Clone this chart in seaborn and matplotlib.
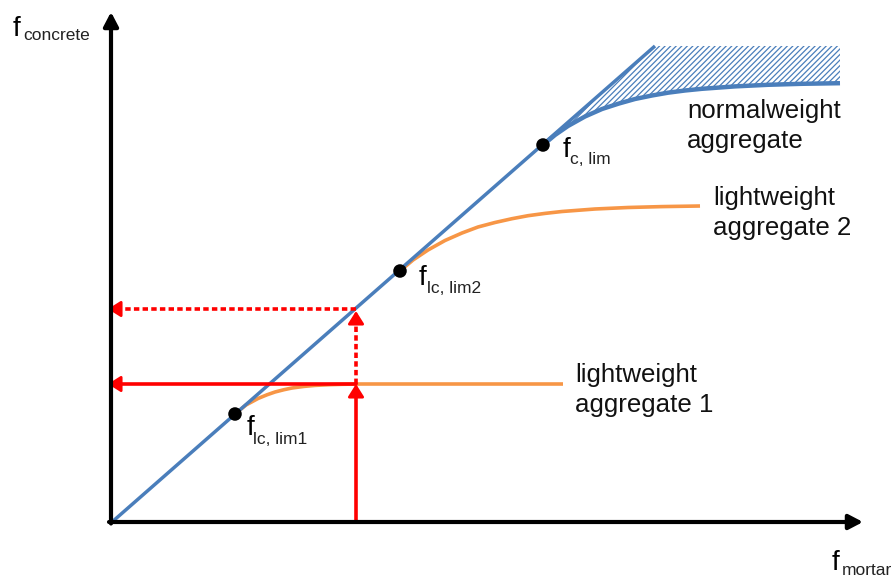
import matplotlib
matplotlib.use("Agg")
import matplotlib.pyplot as plt
import seaborn as sns

# ---------------- data (f_mortar -> f_concrete, schematic units) ----------------
diag_x = [0, 543]
diag_y = [0, 476]

lw1_x = [123, 134, 146, 155, 163, 172, 180, 192, 203, 217, 230, 246, 300, 451]
lw1_y = [108, 117, 123.5, 127.2, 130, 132.3, 134, 135.6, 136.6, 137.3, 137.7, 138, 138, 138]

lw2_x = [288, 301, 316, 333, 350, 366, 383, 400, 416, 433, 450, 483, 516, 550, 588]
lw2_y = [251, 262, 272, 281.5, 289, 295, 299.5, 303.3, 306.3, 308.6, 310.5, 313, 314.5, 315.4, 316]

nw_x = [431, 443, 456, 473, 490, 507, 523, 540, 556, 573, 590, 623, 656, 690, 728]
nw_y = [377, 387, 396, 405.5, 413, 418.5, 423, 426.5, 429.3, 431.5, 433.2, 435.6, 437.2, 438.2, 438.8]

hatch_top = 476

dot_x = [123, 288, 431]
dot_y = [108, 251, 377]

read_x = 244          # mortar strength used for reading
read_y1 = 138         # concrete strength, lightweight aggregate 1
read_y2 = 213         # concrete strength on the diagonal

sym_main = ["f", "f", "f", "f", "f"]
sym_sub = ["concrete", "mortar", "lc, lim1", "lc, lim2", "c, lim"]
sym_pos = [(-99, 486), (720, -48), (135, 87), (307, 237), (451, 365)]
sub_pos = [(-89, 482), (730, -53), (141, 78), (315, 229), (458, 358)]

curve_labels = [["normalweight", "aggregate"],
                ["lightweight", "aggregate 2"],
                ["lightweight", "aggregate 1"]]
label_pos = [(575, 404), (601, 317), (463, 140)]

# ---------------- style ----------------
sns.set_style("white")
plt.rcParams["font.family"] = ["Liberation Sans", "DejaVu Sans"]
plt.rcParams["hatch.linewidth"] = 0.9

BLUE = "#4A7EBB"
ORANGE = "#F79646"
RED = "#FF0000"

fig = plt.figure(figsize=(8.92, 5.78), dpi=100)
ax = fig.add_axes([0, 0, 1, 1])
ax.set_xlim(-112, 780)
ax.set_ylim(-56, 522)
ax.axis("off")

# hatched region between the diagonal/top bound and normalweight curve
poly_x = [nw_x[0], diag_x[1], nw_x[-1]] + nw_x[::-1]
poly_y = [nw_y[0], hatch_top, hatch_top] + nw_y[::-1]
ax.fill(poly_x, poly_y, facecolor="none", edgecolor=BLUE, hatch="//////",
        linewidth=0, zorder=1)

# curves
sns.lineplot(x=lw1_x, y=lw1_y, sort=False, estimator=None, color=ORANGE,
             lw=2.6, ax=ax, zorder=2)
sns.lineplot(x=lw2_x, y=lw2_y, sort=False, estimator=None, color=ORANGE,
             lw=2.6, ax=ax, zorder=2)
sns.lineplot(x=diag_x, y=diag_y, sort=False, estimator=None, color=BLUE,
             lw=2.5, ax=ax, zorder=3)
sns.lineplot(x=nw_x, y=nw_y, sort=False, estimator=None, color=BLUE,
             lw=3.2, ax=ax, zorder=3)
for l in ax.lines:
    l.set_solid_capstyle("butt")
    l.set_solid_joinstyle("round")

# red reading lines
ax.plot([read_x, read_x], [0, read_y1 - 8], color=RED, lw=2.6, zorder=4)
ax.plot([read_x, -4 + 8], [read_y1, read_y1], color=RED, lw=2.6, zorder=4)
ax.plot([read_x, read_x], [read_y1, read_y2 - 6], color=RED, lw=2.6,
        ls=(0, (1.5, 0.9)), zorder=4)
ax.plot([read_x, -4 + 8], [read_y2, read_y2], color=RED, lw=2.6,
        ls=(0, (1.5, 0.9)), zorder=4)

red_head = dict(arrowstyle="-|>,head_length=0.38,head_width=0.24", lw=2.0,
                color=RED, shrinkA=0, shrinkB=0, mutation_scale=20)
ax.annotate("", xy=(read_x, read_y1), xytext=(read_x, read_y1 - 12),
            arrowprops=red_head, zorder=5)
ax.annotate("", xy=(-4, read_y1), xytext=(8, read_y1),
            arrowprops=red_head, zorder=5)
ax.annotate("", xy=(read_x, read_y2 - 2), xytext=(read_x, read_y2 - 14),
            arrowprops=red_head, zorder=5)
ax.annotate("", xy=(-4, read_y2), xytext=(8, read_y2),
            arrowprops=red_head, zorder=5)

# axes with arrows
ax_head = dict(arrowstyle="-|>,head_length=0.42,head_width=0.22", lw=3.0,
               color="black", shrinkA=0, shrinkB=0, mutation_scale=20)
ax.annotate("", xy=(751, 0), xytext=(-3, 0), arrowprops=ax_head, zorder=6)
ax.annotate("", xy=(-1, 510), xytext=(-1, -1.5), arrowprops=ax_head, zorder=6)

# points
sns.scatterplot(x=dot_x, y=dot_y, color="black", s=95, edgecolor="none",
                ax=ax, zorder=7, legend=False)

# symbols
for m, s, (mx, my), (sx, sy) in zip(sym_main, sym_sub, sym_pos, sub_pos):
    ax.text(mx, my, m, fontsize=20, va="baseline", ha="left", color="black")
    ax.text(sx, sy, s, fontsize=12.5, va="baseline", ha="left", color="#222222")

# curve labels
for lines, (lx, ly) in zip(curve_labels, label_pos):
    for i, t in enumerate(lines):
        ax.text(lx, ly - 30 * i, t, fontsize=18.6, va="baseline", ha="left",
                color="#111111")

fig.savefig("out.png", dpi=100)
